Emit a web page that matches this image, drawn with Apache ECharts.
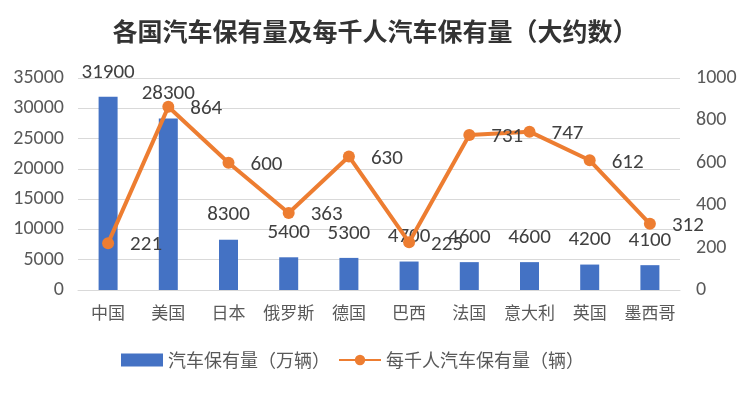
<!DOCTYPE html>
<html><head><meta charset="utf-8">
<script src="https://cdn.jsdelivr.net/npm/echarts@6/dist/echarts.min.js"></script>
<style>html,body{margin:0;padding:0;background:#fff}#c{width:750px;height:394px}</style>
</head><body><div id="c"></div>
<script>
const categories = ['中国','美国','日本','俄罗斯','德国','巴西','法国','意大利','英国','墨西哥'];
const carStock = [31900,28300,8300,5400,5300,4700,4600,4600,4200,4100];
const perThousand = [221,864,600,363,630,225,731,747,612,312];
const leftTicks = {min:0,max:35000,interval:5000};
const rightTicks = {min:0,max:1000,interval:200};

const chart = echarts.init(document.getElementById('c'));
const lblFont = 'Calibri, Carlito, "Liberation Sans", "Noto Sans CJK SC", sans-serif';
chart.setOption({
  animation:false,
  backgroundColor:'#fff',
  title:{text:'各国汽车保有量及每千人汽车保有量（大约数）',left:'center',top:14,
    textStyle:{fontFamily:'"Noto Sans CJK SC"',fontSize:25,fontWeight:'bold',color:'#333'}},
  grid:{left:78,right:70,top:78,bottom:104},
  legend:{bottom:20,left:116,itemGap:8,itemWidth:42,itemHeight:13,
    textStyle:{fontFamily:'"Noto Sans CJK SC"',fontSize:18,color:'#595959'},
    data:[{name:'汽车保有量（万辆）',icon:'rect'},{name:'每千人汽车保有量（辆）'}]},
  xAxis:{type:'category',data:categories,
    axisLine:{lineStyle:{color:'#d9d9d9'}},axisTick:{show:false},
    axisLabel:{interval:0,fontFamily:'"Noto Sans CJK SC"',fontSize:17,color:'#595959',margin:14}},
  yAxis:[
    {type:'value',min:leftTicks.min,max:leftTicks.max,interval:leftTicks.interval,
     splitLine:{lineStyle:{color:'#d9d9d9'}},axisLine:{show:false},axisTick:{show:false},
     axisLabel:{formatter:v=>String(v),fontFamily:lblFont,fontSize:20,color:'#595959',margin:14}},
    {type:'value',min:rightTicks.min,max:rightTicks.max,interval:rightTicks.interval,
     splitLine:{show:false},axisLine:{show:false},axisTick:{show:false},
     axisLabel:{formatter:v=>String(v),fontFamily:lblFont,fontSize:20,color:'#595959',margin:16}}
  ],
  series:[
    {name:'汽车保有量（万辆）',type:'bar',data:carStock,barWidth:19,
     itemStyle:{color:'#4472C4'},
     label:{show:true,position:'top',distance:14,fontFamily:lblFont,fontSize:21,color:'#404040'}},
    {name:'每千人汽车保有量（辆）',type:'line',yAxisIndex:1,data:perThousand,
     lineStyle:{color:'#ED7D31',width:4},itemStyle:{color:'#ED7D31'},
     symbol:'circle',symbolSize:12,
     label:{show:true,position:'right',distance:16,offset:[0,2],fontFamily:lblFont,fontSize:21,color:'#404040'}}
  ]
});
</script></body></html>
